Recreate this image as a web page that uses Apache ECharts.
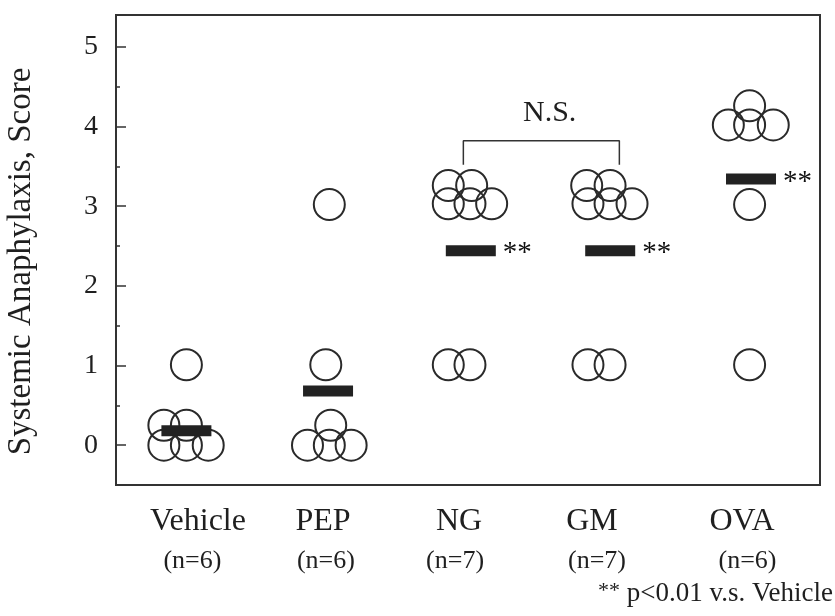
<!DOCTYPE html>
<html><head><meta charset="utf-8">
<script src="https://cdn.jsdelivr.net/npm/echarts@6/dist/echarts.min.js"></script>
<style>html,body{margin:0;padding:0;background:#fff}#c{width:835px;height:616px}</style>
</head><body><div id="c"></div>
<script>
// ---- data ----
const categories = ['Vehicle', 'PEP', 'NG', 'GM', 'OVA'];
const nLabels = ['(n=6)', '(n=6)', '(n=7)', '(n=7)', '(n=6)'];
const vehicleScores = [1, 0, 0, 0, 0, 0];
const pepScores = [3, 1, 0, 0, 0, 0];
const ngScores = [3, 3, 3, 3, 3, 1, 1];
const gmScores = [3, 3, 3, 3, 3, 1, 1];
const ovaScores = [4, 4, 4, 4, 3, 1];
const meanScores = [0.18, 0.68, 2.44, 2.44, 3.34];
const significance = ['', '', '**', '**', '**'];
const bracketText = 'N.S.';
const footnoteStars = '**';
const footnoteText = ' p<0.01 v.s. Vehicle';
const yAxisTitle = 'Systemic Anaphylaxis, Score';

// ---- layout: jitter of overlapping circles (axis units) ----
const vehicleDx = [0, -0.16, 0, -0.16, 0, 0.155];
const vehicleDy = [0.01, 0.25, 0.25, 0, 0, 0];
const pepDx = [0.015, -0.01, 0.025, -0.14, 0.015, 0.17];
const pepDy = [0.02, 0.01, 0.25, 0, 0, 0];
const ngDx = [-0.14, 0.026, -0.14, 0.014, 0.168, -0.14, 0.014];
const ngDy = [0.26, 0.26, 0.03, 0.03, 0.03, 0.01, 0.01];
const gmDx = [-0.157, 0.009, -0.148, 0.009, 0.165, -0.148, 0.009];
const gmDy = [0.26, 0.26, 0.03, 0.03, 0.03, 0.01, 0.01];
const ovaDx = [0, -0.151, 0, 0.168, 0, 0];
const ovaDy = [0.26, 0.02, 0.02, 0.02, 0.02, 0.01];
const meanDx = [0, 0.006, 0.02, 0.01, 0.01];
const bracketX = [2.967, 4.075];
const bracketY = [3.52, 3.82];
const nsPos = [3.58, 4.17];
const catLabelX = [1.082, 1.970, 2.936, 3.881, 4.946];
const nLabelX = [1.043, 1.991, 2.908, 3.916, 4.985];

const groups = [
  [vehicleScores, vehicleDx, vehicleDy],
  [pepScores, pepDx, pepDy],
  [ngScores, ngDx, ngDy],
  [gmScores, gmDx, gmDy],
  [ovaScores, ovaDx, ovaDy]
];
const circles = [];
groups.forEach((g, gi) => {
  g[0].forEach((s, i) => circles.push([gi + 1 + g[1][i], s + g[2][i]]));
});
const means = meanScores.map((m, i) => [i + 1 + meanDx[i], m]);
const bracket = [
  [bracketX[0], bracketY[0]], [bracketX[0], bracketY[1]],
  [bracketX[1], bracketY[1]], [bracketX[1], bracketY[0]]
];

const FONT = '"Liberation Serif", "Times New Roman", serif';
const INK = '#1f1f1f';
const LINE = '#333';
const chart = echarts.init(document.getElementById('c'), null, {renderer: 'canvas'});
const option = {
  animation: false,
  backgroundColor: '#fff',
  grid: {left: 116, right: 15, top: 15, bottom: 131, show: true, borderColor: LINE, borderWidth: 2,
    backgroundColor: 'transparent', containLabel: false, outerBoundsMode: 'none'},
  xAxis: {
    type: 'value', min: 0.5, max: 5.5,
    axisLine: {show: true, onZero: false, lineStyle: {color: LINE, width: 2}},
    axisTick: {show: false}, axisLabel: {show: false}, splitLine: {show: false}
  },
  yAxis: {
    type: 'value', min: -0.5, max: 5.4, splitNumber: 5,
    name: yAxisTitle, nameLocation: 'middle', nameGap: 78,
    nameTextStyle: {fontFamily: FONT, fontSize: 33, color: INK, padding: [0, 23, 0, 0]},
    axisLine: {show: true, onZero: false, lineStyle: {color: LINE, width: 2}},
    axisTick: {show: true, inside: true, length: 10, lineStyle: {color: LINE, width: 1.5}},
    minorTick: {show: true, splitNumber: 2, length: 4, lineStyle: {color: LINE, width: 1.5}},
    axisLabel: {fontFamily: FONT, fontSize: 28, color: INK, margin: 18, showMinLabel: false, showMaxLabel: false},
    splitLine: {show: false}
  },
  series: [
    {
      type: 'scatter', data: circles, symbol: 'circle', symbolSize: 31,
      itemStyle: {color: 'rgba(0,0,0,0)', borderColor: '#2a2a2a', borderWidth: 2, opacity: 1},
      emphasis: {disabled: true}, silent: true, z: 3
    },
    {
      type: 'scatter', data: means, symbol: 'rect', symbolSize: [50, 11],
      itemStyle: {color: '#222', opacity: 1}, emphasis: {disabled: true}, silent: true, z: 4,
      label: {show: true, position: 'right', distance: 7, offset: [0, 3],
        formatter: p => significance[p.dataIndex], fontFamily: FONT, fontSize: 29, color: '#111'}
    },
    {
      type: 'line', data: bracket, symbol: 'none', lineStyle: {color: LINE, width: 1.5},
      silent: true, z: 2
    },
    {
      type: 'scatter', data: [nsPos], symbolSize: 1, itemStyle: {color: 'rgba(0,0,0,0)', opacity: 1},
      label: {show: true, position: 'inside', formatter: bracketText, fontFamily: FONT, fontSize: 30, color: INK},
      silent: true
    }
  ]
};
chart.setOption(option);

const base = chart.convertToPixel({gridIndex: 0}, [1, -0.5])[1];
const texts = [];
categories.forEach((c, i) => {
  const x = chart.convertToPixel({gridIndex: 0}, [catLabelX[i], 0])[0];
  texts.push({type: 'text', x: x, y: base + 37, style: {text: c, align: 'center', verticalAlign: 'middle', font: '32px ' + FONT, fill: INK}});
  const xn = chart.convertToPixel({gridIndex: 0}, [nLabelX[i], 0])[0];
  texts.push({type: 'text', x: xn, y: base + 76, style: {text: nLabels[i], align: 'center', verticalAlign: 'middle', font: '26px ' + FONT, fill: INK}});
});
texts.push({type: 'text', right: 2, bottom: 9, style: {
  text: '{s|' + footnoteStars + '}{t|' + footnoteText + '}',
  rich: {s: {fontSize: 22, fontFamily: FONT, fill: INK, verticalAlign: 'top'}, t: {fontSize: 27, fontFamily: FONT, fill: INK}},
  fill: INK
}});
chart.setOption({graphic: texts});
</script>
</body></html>
